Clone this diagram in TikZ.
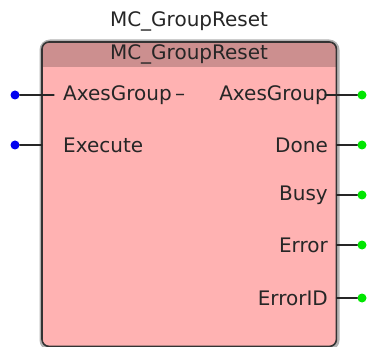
\documentclass[tikz,border=0pt]{standalone}
\usepackage{fontspec}
\setsansfont{DejaVu Sans}
\usetikzlibrary{positioning}
\definecolor{fbbody}{RGB}{255,178,178}
\definecolor{fbhead}{RGB}{204,143,143}
\definecolor{pinin}{RGB}{0,0,240}
\definecolor{pinout}{RGB}{0,230,0}
\tikzset{
	pintext/.style={font=\sffamily\fontsize{20}{24}\selectfont, inner sep=0pt, text=black!85},
	indot/.style={circle, fill=pinin, inner sep=0pt, minimum size=9pt},
	outdot/.style={circle, fill=pinout, inner sep=0pt, minimum size=9pt},
	pinwire/.style={black!85, line width=1.2pt},
}
\begin{document}
\begin{tikzpicture}[x=1pt, y=-1pt, line join=round, line cap=round]
			\useasboundingbox (0,0) rectangle (369,347);
			% Khung khoi chuc nang
			\draw[black!30, line width=5pt, rounded corners=8pt] (42,42) rectangle (337,348);
			\node (fb) [fill=fbbody, rounded corners=7pt, minimum width=294pt, minimum height=304pt, anchor=north west, inner sep=0pt] at (42,42) {};
			\begin{scope}
				\clip[rounded corners=7pt] (fb.south west) rectangle (fb.north east);
				\fill[fbhead] (fb.north west) rectangle ([yshift=-25pt]fb.north east);
			\end{scope}
			\draw[black!80, line width=1.6pt, rounded corners=7pt] (fb.south west) rectangle (fb.north east);
			\node[pintext] (title) at (189,21) {MC\_GroupReset};
			\node[pintext] (hdr) at (189,54) {MC\_GroupReset};
			
			% Cac chan vao
			\node[pintext, anchor=west] (inAxes) at (63,95) {AxesGroup\,–};
			\node[pintext, anchor=west] (inExec) at (63,145) {Execute};
			\node[indot] (dAxes) at (15,95) {};
			\node[indot] (dExec) at (15,145) {};
			\coordinate (eAxes) at (54,95);
			\draw[pinwire] (dAxes) -- (eAxes);
			\draw[pinwire] (dExec) -- (fb.west |- dExec);
			
			% Cac chan ra
			\node[pintext, anchor=east] (outAxes) at (328,95) {AxesGroup};
			\node[pintext, anchor=east] (outDone) at (328,145) {Done};
			\node[pintext, anchor=east] (outBusy) at (328,195) {Busy};
			\node[pintext, anchor=east] (outErr) at (328,245) {Error};
			\node[pintext, anchor=east] (outErrID) at (328,298) {ErrorID};
			\foreach \p/\y in {Axes/95, Done/145, Busy/195, Err/245, ErrID/298}
				\node[outdot] (o\p) at (362,\y) {};
			\coordinate (sAxes) at (325,95);
			\draw[pinwire] (sAxes) -- (oAxes);
			\foreach \p in {Done, Busy, Err, ErrID}
				\draw[pinwire] (fb.east |- o\p) -- (o\p);
		\end{tikzpicture}
\end{document}
